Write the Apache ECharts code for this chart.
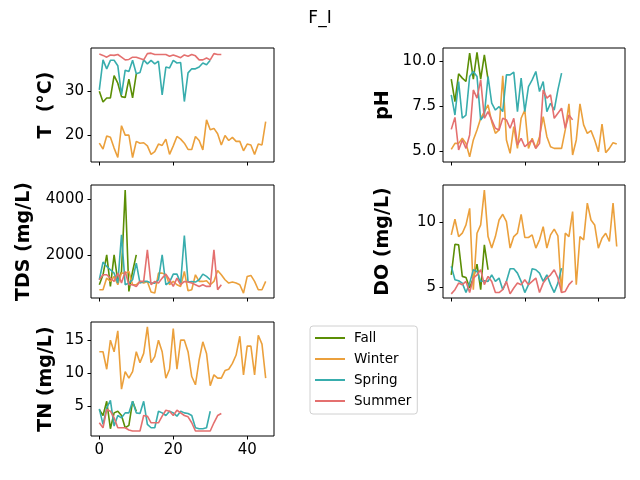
<!DOCTYPE html>
<html>
<head>
<meta charset="utf-8">
<script src="https://cdn.jsdelivr.net/npm/echarts@6/dist/echarts.min.js"></script>
<style>
  html, body { margin: 0; padding: 0; background: #fff; }
  #chart { width: 640px; height: 480px; }
</style>
</head>
<body>
<div id="chart"></div>
<script>
// season names and colours
var seasons = ["Fall", "Winter", "Spring", "Summer"];
var colors = ["#5b8e05", "#eba03c", "#38adad", "#e4706f"];

// T (°C)
var fallT = [29.9, 27.5, 28.4, 28.4, 33.4, 31.7, 28.7, 28.5, 32.6, 28.4, 33.8];
var winterT = [18.3, 17.0, 19.9, 19.6, 17.2, 15.1, 22.2, 20.1, 20.1, 15.1, 18.7, 18.3, 18.4, 17.7, 15.8, 16.4,
  18.1, 17.8, 19.2, 15.8, 17.7, 19.8, 19.2, 18.3, 16.9, 16.9, 19.8, 18.9, 16.8, 23.5, 21.3, 21.6, 20.4, 17.9,
  20.0, 18.9, 19.6, 18.7, 18.7, 16.6, 18.1, 17.9, 15.8, 18.1, 17.9, 23.1];
var springT = [30.2, 36.9, 34.9, 36.8, 36.8, 35.6, 29.1, 34.6, 34.3, 36.8, 33.8, 34.1, 36.9, 36.0, 36.8, 36.0,
  36.6, 29.1, 35.3, 35.1, 36.8, 36.2, 36.3, 27.6, 34.0, 34.9, 34.9, 35.3, 36.2, 35.8, 36.8];
var summerT = [38.2, 37.9, 37.5, 38.0, 37.9, 38.1, 37.5, 36.9, 37.0, 37.5, 37.5, 37.2, 36.9, 38.3, 38.4, 38.1,
  38.1, 38.1, 38.1, 37.7, 38.0, 37.7, 37.4, 38.0, 37.7, 38.1, 37.8, 36.9, 36.9, 37.3, 36.9, 38.3, 38.1, 38.1];

// pH
var fallPH = [9.01, 7.76, 9.31, 9.07, 8.88, 10.47, 9.01, 10.5, 9.01, 10.37, 9.0];
var winterPH = [5.09, 5.43, 5.43, 5.71, 5.43, 4.68, 5.62, 6.18, 6.83, 7.2, 7.57, 6.64, 5.99, 6.18, 9.2, 5.62,
  4.87, 6.36, 5.15, 6.83, 7.29, 5.15, 5.71, 5.15, 5.8, 6.92, 5.8, 5.24, 5.15, 5.15, 5.15, 6.18, 7.63, 4.78,
  5.62, 7.63, 6.46, 5.99, 6.14, 5.62, 4.96, 6.51, 4.91, 5.15, 5.47, 5.39];
var springPH = [8.13, 7.01, 8.88, 6.83, 7.01, 9.16, 9.44, 9.16, 6.73, 7.01, 9.16, 7.67, 7.29, 7.48, 7.2, 9.25,
  9.25, 9.4, 7.2, 9.07, 7.2, 8.6, 8.97, 9.44, 8.32, 8.88, 7.2, 7.67, 7.29, 8.41, 9.35];
var summerPH = [6.21, 6.88, 5.06, 5.62, 5.15, 5.9, 8.41, 7.95, 8.97, 6.83, 7.2, 6.74, 6.27, 6.18, 6.83, 6.74,
  6.27, 6.83, 5.34, 5.71, 5.24, 5.43, 5.62, 5.15, 5.43, 8.41, 7.95, 8.13, 6.83, 7.11, 7.39, 6.27, 7.01, 6.74];

// TDS (mg/L)
var fallTDS = [922, 1281, 2000, 862, 2000, 1042, 1400, 4330, 680, 1400, 2000];
var winterTDS = [742, 742, 1161, 1042, 1221, 922, 1341, 1341, 1401, 922, 922, 1042, 982, 1042, 658, 622,
  1341, 1341, 1281, 922, 1042, 922, 862, 1401, 706, 742, 1281, 1042, 1042, 1066, 922, 1042, 1437, 1281,
  1101, 982, 1018, 982, 922, 622, 1221, 1257, 1042, 742, 742, 1042];
var springTDS = [1101, 1736, 1581, 1461, 1341, 982, 2719, 922, 982, 1101, 1700, 982, 1042, 1042, 982, 982,
  1101, 2000, 922, 1018, 1305, 1305, 982, 2695, 1018, 1042, 1018, 1101, 1305, 1221, 1101];
var summerTDS = [1101, 1281, 1281, 1161, 1042, 1341, 982, 1401, 922, 922, 862, 1042, 1042, 2180, 922, 1042,
  982, 1161, 1305, 1101, 862, 1161, 922, 1042, 1018, 982, 922, 862, 922, 862, 862, 2180, 742, 922];

// DO (mg/L)
var fallDO = [5.97, 8.33, 8.28, 5.85, 5.77, 4.95, 5.72, 6.79, 4.82, 8.28, 6.36];
var winterDO = [9.05, 10.26, 8.92, 9.18, 9.82, 11.1, 4.82, 9.18, 9.82, 12.5, 8.92, 8.03, 8.92, 10.2, 10.64,
  10.08, 8.03, 8.92, 9.18, 10.64, 8.85, 8.85, 9.05, 8.03, 8.67, 9.69, 8.03, 9.05, 9.49, 8.97, 4.6, 9.18,
  8.92, 10.85, 5.2, 8.92, 8.67, 11.5, 10.2, 9.82, 8.03, 8.79, 9.18, 8.54, 11.5, 8.15];
var springDO = [6.62, 5.59, 5.51, 5.33, 4.6, 5.33, 6.36, 6.23, 5.46, 5.51, 5.46, 5.97, 5.46, 5.72, 4.82, 5.46,
  6.44, 6.44, 6.1, 5.46, 4.6, 5.21, 6.44, 6.36, 6.1, 5.46, 5.97, 5.21, 4.6, 5.33, 6.49];
var summerDO = [4.5, 4.82, 5.33, 5.21, 5.46, 4.6, 5.72, 5.97, 6.36, 5.21, 5.85, 5.46, 4.6, 4.6, 4.82, 5.46,
  4.5, 4.95, 5.33, 5.21, 5.59, 5.21, 5.46, 5.72, 4.6, 5.33, 5.72, 5.97, 6.36, 5.72, 4.6, 4.69, 5.21, 5.51];

// TN (mg/L)
var fallTN = [4.5, 3.6, 5.75, 1.6, 4.0, 4.25, 3.6, 1.75, 2.1, 5.75, 4.25];
var winterTN = [13.25, 13.25, 10.6, 15.0, 13.25, 16.4, 7.6, 10.25, 9.25, 10.25, 13.25, 11.6, 13.0, 17.0, 11.6,
  12.5, 15.0, 13.25, 9.25, 10.6, 16.75, 10.6, 15.0, 15.0, 13.25, 9.5, 8.25, 12.0, 14.75, 13.0, 8.1, 9.75,
  9.25, 9.25, 10.4, 10.6, 11.5, 12.75, 15.6, 9.75, 14.1, 14.1, 9.75, 15.75, 14.4, 9.25];
var springTN = [4.6, 2.25, 4.75, 5.9, 2.0, 3.6, 3.25, 4.0, 4.0, 5.75, 4.0, 3.9, 5.75, 2.25, 1.75, 1.75, 4.25,
  4.0, 3.6, 4.25, 4.0, 3.5, 4.25, 4.0, 3.9, 3.6, 1.75, 1.6, 1.6, 1.75, 4.25];
var summerTN = [2.5, 1.75, 4.5, 4.25, 3.25, 1.75, 1.75, 1.75, 1.4, 1.25, 1.25, 1.25, 3.6, 3.5, 2.5, 2.5, 2.5,
  3.5, 4.4, 4.25, 3.6, 4.4, 4.0, 3.6, 3.4, 2.5, 1.25, 1.25, 1.25, 1.25, 1.25, 2.5, 3.6, 3.9];

// tick labels
var xTicks = [0, 20, 40];
var tTicks = [20, 30];
var phTicks = [5.0, 7.5, 10.0];
var tdsTicks = [2000, 4000];
var doTicks = [5, 10];
var tnTicks = [5, 10, 15];

var font = "DejaVu Sans";

var panels = [
  { name: "T  (\u00b0C)", data: [fallT, winterT, springT, summerT], ticks: tTicks, min: 14.1, max: 39.55,
    grid: { left: 91, top: 48, width: 183, height: 114 }, gap: 35, xLabels: false, dec: 0 },
  { name: "pH", data: [fallPH, winterPH, springPH, summerPH], ticks: phTicks, min: 4.39, max: 10.75,
    grid: { left: 443, top: 48, width: 182, height: 114 }, gap: 50, xLabels: false, dec: 1 },
  { name: "TDS (mg/L)", data: [fallTDS, winterTDS, springTDS, summerTDS], ticks: tdsTicks, min: 445, max: 4513,
    grid: { left: 91, top: 185, width: 183, height: 113 }, gap: 57, xLabels: false, dec: 0 },
  { name: "DO (mg/L)", data: [fallDO, winterDO, springDO, summerDO], ticks: doTicks, min: 4.18, max: 12.9,
    grid: { left: 443, top: 185, width: 182, height: 113 }, gap: 50, xLabels: false, dec: 0 },
  { name: "TN (mg/L)", data: [fallTN, winterTN, springTN, summerTN], ticks: tnTicks, min: 0.5, max: 17.75,
    grid: { left: 91, top: 322, width: 183, height: 114 }, gap: 35, xLabels: true, dec: 0 }
];

var grids = [], xAxes = [], yAxes = [], series = [];
panels.forEach(function (p, k) {
  grids.push(Object.assign({ show: true, borderColor: "#000", borderWidth: 1, backgroundColor: "#fff" }, p.grid));
  xAxes.push({
    type: "value", gridIndex: k, min: -2.25, max: 47.25,
    axisLine: { show: false, onZero: false },
    splitLine: { show: false },
    axisTick: { show: true, length: 3.5, lineStyle: { color: "#000", width: 1 }, customValues: xTicks },
    axisLabel: { show: p.xLabels, customValues: xTicks, margin: 7, color: "#000", fontSize: 15, fontFamily: font }
  });
  yAxes.push({
    type: "value", gridIndex: k, min: p.min, max: p.max,
    name: p.name, nameLocation: "middle", nameRotate: 90, nameGap: p.gap,
    nameTextStyle: { color: "#000", fontSize: 19, fontWeight: "bold", fontFamily: font },
    axisLine: { show: false, onZero: false },
    splitLine: { show: false },
    axisTick: { show: true, length: 3.5, lineStyle: { color: "#000", width: 1 }, customValues: p.ticks },
    axisLabel: {
      customValues: p.ticks, margin: 7, color: "#000", fontSize: 15, fontFamily: font,
      formatter: (function (d) { return function (v) { return Number(v).toFixed(d); }; })(p.dec)
    }
  });
  p.data.forEach(function (vals, s) {
    series.push({
      name: seasons[s], type: "line", xAxisIndex: k, yAxisIndex: k,
      symbol: "none", showSymbol: false,
      color: colors[s],
      lineStyle: { width: 1.6, color: colors[s] },
      data: vals.map(function (v, i) { return [i, v]; })
    });
  });
});

var chart = echarts.init(document.getElementById("chart"), null, { renderer: "canvas" });
chart.setOption({
  animation: false,
  backgroundColor: "#fff",
  title: {
    text: "F_I", left: "center", top: 10, padding: 0,
    textStyle: { color: "#000", fontSize: 17, fontWeight: "normal", fontFamily: font }
  },
  legend: {
    data: seasons, orient: "vertical", left: 310, top: 326,
    padding: [5, 6, 6, 5], itemWidth: 30, itemHeight: 2, itemGap: 7, icon: "rect",
    borderColor: "#d0d0d0", borderWidth: 1, borderRadius: 3,
    textStyle: { color: "#000", fontSize: 13.5, fontFamily: font, padding: [0, 0, 0, 4], lineHeight: 14 }
  },
  grid: grids,
  xAxis: xAxes,
  yAxis: yAxes,
  series: series
});
</script>
</body>
</html>
